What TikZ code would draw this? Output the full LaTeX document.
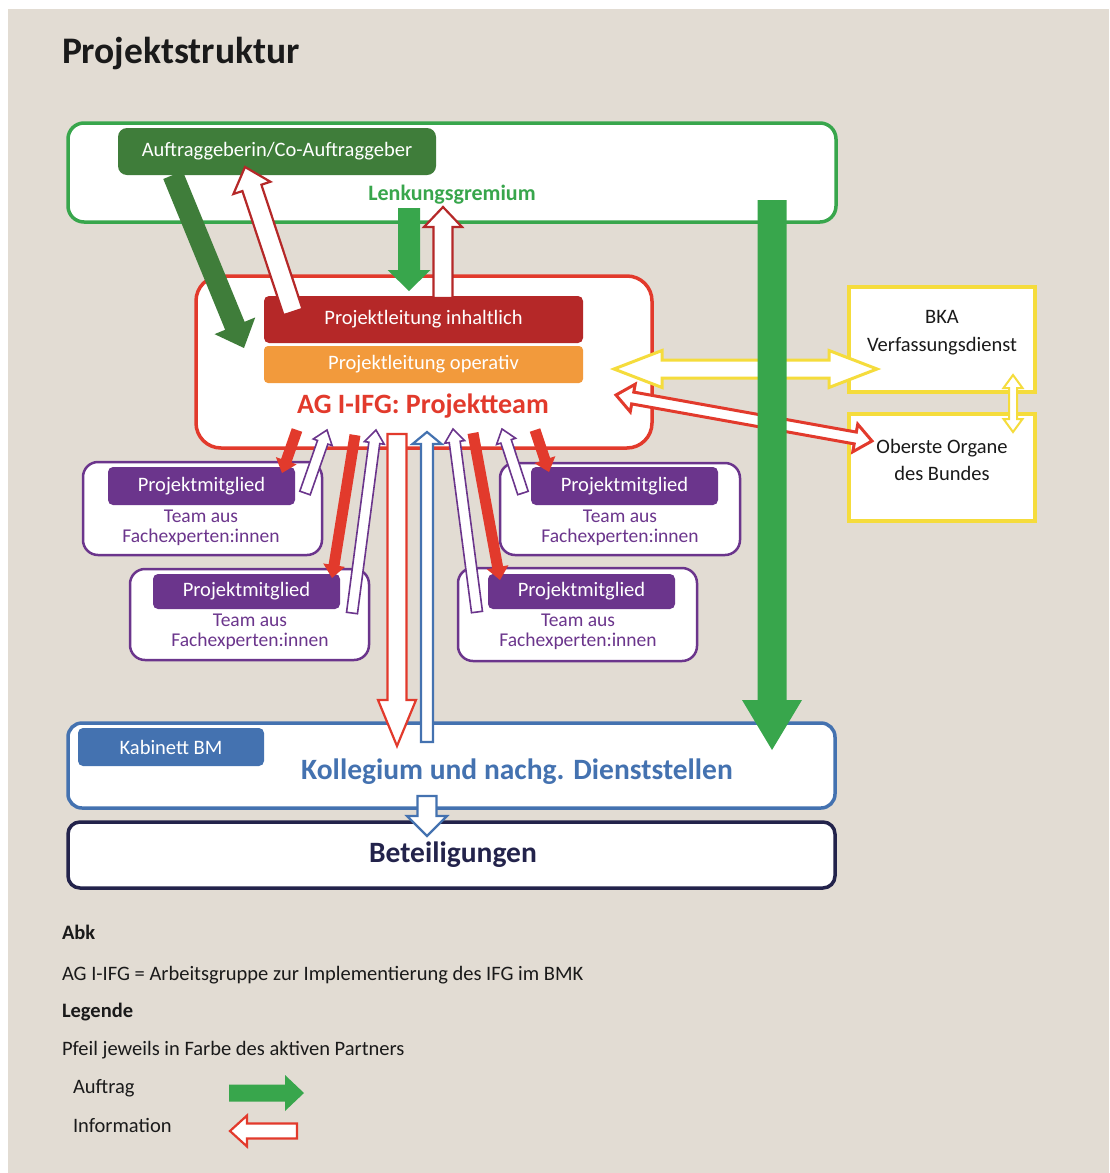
\documentclass[tikz,border=0pt]{standalone}
\usepackage{fontspec}
\setmainfont{Carlito}
\usetikzlibrary{calc}
\definecolor{beige}{HTML}{E2DCD3}
\definecolor{lgreen}{HTML}{38A64C}
\definecolor{dgreen}{HTML}{3F7D3A}
\definecolor{tred}{HTML}{E23A2C}
\definecolor{dred}{HTML}{B52828}
\definecolor{orng}{HTML}{F29A3C}
\definecolor{purp}{HTML}{6B358C}
\definecolor{ylw}{HTML}{F5DC3C}
\definecolor{blu}{HTML}{4472B0}
\definecolor{navy}{HTML}{23234B}
\definecolor{ink}{HTML}{1A1A1A}
% block arrow: style, from, to, shaft half width, head half width, head length
\newcommand\blockarrow[6]{%
  \path[#1] let \p1=(#2), \p2=(#3), \n1={atan2(\y2-\y1,\x2-\x1)}, \n2={veclen(\x2-\x1,\y2-\y1)} in
  [shift={(\p1)}, rotate=\n1]
  (0,-#4) -- ({\n2-#6},-#4) -- ({\n2-#6},-#5) -- (\n2,0) -- ({\n2-#6},#5) -- ({\n2-#6},#4) -- (0,#4) -- cycle;}
% double-headed block arrow
\newcommand\dblarrow[6]{%
  \path[#1] let \p1=(#2), \p2=(#3), \n1={atan2(\y2-\y1,\x2-\x1)}, \n2={veclen(\x2-\x1,\y2-\y1)} in
  [shift={(\p1)}, rotate=\n1]
  (0,0) -- (#6,#5) -- (#6,#4) -- ({\n2-#6},#4) -- ({\n2-#6},#5) -- (\n2,0) -- ({\n2-#6},-#5) -- ({\n2-#6},-#4) -- (#6,-#4) -- (#6,-#5) -- cycle;}
\tikzset{
  box/.style={rectangle, inner sep=0pt, outer sep=0pt, anchor=north west},
  txt/.style={inner sep=0pt, outer sep=0pt, anchor=base},
  solidA/.style={fill=#1},
  hollowA/.style={fill=white, draw=#1, line width=2.2pt, line join=miter},
  fd/.style={font=\fontsize{20.5}{24}\selectfont},
  fl/.style={font=\fontsize{20.5}{24}\selectfont},
  fb/.style={font=\fontsize{20.5}{24}\selectfont\bfseries},
  labelbox/.style={box, fill=purp, rounded corners=5pt, minimum width=187pt, text=white, fd},
  memberbox/.style={box, draw=purp, line width=2.5pt, fill=white, rounded corners=15pt},
  membertxt/.style={inner sep=0pt, outer sep=0pt, anchor=center, align=center, text=purp, font=\fontsize{19.5}{20}\selectfont},
}
\begin{document}
\begin{tikzpicture}[x=1pt,y=-1pt]
\useasboundingbox (0,0) rectangle (1109,1173);
\fill[white] (0,0) rectangle (1109,1173);
\fill[beige] (8,9) rectangle (1109,1173);

% title
\node[txt, anchor=base west, font=\fontsize{37.5}{44}\selectfont\bfseries, text=ink] (title) at (62,63) {Projektstruktur};

% Lenkungsgremium
\node[box, draw=lgreen, line width=3.5pt, fill=white, rounded corners=16pt, minimum width=768pt, minimum height=99pt] (lenk) at (68,123) {};
\node[box, fill=dgreen, rounded corners=9pt, minimum width=318pt, minimum height=47pt, text=white, fd] (auftr) at (118,128) {Auftraggeberin/Co-Auftraggeber};
\node[txt, font=\fontsize{22}{26}\selectfont\bfseries, text=lgreen] (lenkt) at (452,200) {Lenkungsgremium};

% Projektteam
\node[box, draw=tred, line width=3.5pt, fill=white, rounded corners=25pt, minimum width=456pt, minimum height=172pt] (team) at (196,276) {};
\node[box, fill=dred, rounded corners=5pt, minimum width=319pt, minimum height=47pt, text=white, fd] (pli) at (264,296) {Projektleitung inhaltlich};
\node[box, fill=orng, rounded corners=4pt, minimum width=319pt, minimum height=37pt, text=white, fd] (plo) at (264,346) {Projektleitung operativ};
\node[txt, font=\fontsize{28}{33}\selectfont\bfseries, text=tred] (teamt) at (423,413) {AG I-IFG: Projektteam};

% yellow boxes
\node[box, draw=ylw, line width=4pt, fill=white, minimum width=186pt, minimum height=105pt] (bka) at (849,287) {};
\node[txt, fd, text=ink] (bkat1) at (942,323) {BKA};
\node[txt, fd, text=ink] (bkat2) at (942,351) {Verfassungsdienst};
\node[box, draw=ylw, line width=4pt, fill=white, minimum width=186pt, minimum height=107pt] (obo) at (849,414) {};
\node[txt, fd, text=ink] (obot1) at (942,453) {Oberste Organe};
\node[txt, fd, text=ink] (obot2) at (942,480) {des Bundes};

% members
\node[memberbox, minimum width=239pt, minimum height=93pt] (m1) at (83,462) {};
\node[labelbox, minimum height=38pt] (m1l) at (108,467) {Projektmitglied};
\node[membertxt] (m1t) at (201,528) {Team aus\\Fachexperten:innen};

\node[memberbox, minimum width=239pt, minimum height=91pt] (m2) at (130,569) {};
\node[labelbox, minimum height=35pt] (m2l) at (153,574) {Projektmitglied};
\node[membertxt] (m2t) at (250,632) {Team aus\\Fachexperten:innen};

\node[memberbox, minimum width=240pt, minimum height=92pt] (m3) at (500,463) {};
\node[labelbox, minimum height=38pt] (m3l) at (531,467) {Projektmitglied};
\node[membertxt] (m3t) at (620,528) {Team aus\\Fachexperten:innen};

\node[memberbox, minimum width=239pt, minimum height=93pt] (m4) at (458,568) {};
\node[labelbox, minimum height=35pt] (m4l) at (488,574) {Projektmitglied};
\node[membertxt] (m4t) at (578,632) {Team aus\\Fachexperten:innen};

% Kollegium / Beteiligungen
\node[box, draw=blu, line width=3.5pt, fill=white, rounded corners=14pt, minimum width=767pt, minimum height=85pt] (koll) at (68,723) {};
\node[box, fill=blu, rounded corners=5pt, minimum width=186pt, minimum height=38pt, text=white, fd] (kab) at (78,728) {Kabinett BM};
\node[txt, font=\fontsize{29.5}{34}\selectfont\bfseries, text=blu] (kollt) at (517,779) {Kollegium und nachg. Dienststellen};
\node[box, draw=navy, line width=3.5pt, fill=white, rounded corners=12pt, minimum width=767pt, minimum height=66pt] (bet) at (68,822) {};
\node[txt, font=\fontsize{29.5}{34}\selectfont\bfseries, text=navy] (bett) at (453,862) {Beteiligungen};

% ---------- arrow end points
\coordinate (dgS) at (173,175);   \coordinate (dgT) at (244,348);
\coordinate (iaS) at (293,312);   \coordinate (iaT) at (245,167);
\coordinate (lgS) at (409,208);   \coordinate (lgT) at (409,291);
\coordinate (ilS) at (443,298);   \coordinate (ilT) at (443,207);
\coordinate (bgS) at (772,200);   \coordinate (bgT) at (772,750);
\coordinate (yA) at (614,369);    \coordinate (yB) at (877,369);
\coordinate (rA) at (616,395);    \coordinate (rB) at (872,441);
\coordinate (vyA) at (1013,375);  \coordinate (vyB) at (1013,432);
\coordinate (r1S) at (297,430);   \coordinate (r1T) at (282,473);
\coordinate (r2S) at (355,435);   \coordinate (r2T) at (332,578);
\coordinate (r3S) at (473,433);   \coordinate (r3T) at (500,580);
\coordinate (r4S) at (535,430);   \coordinate (r4T) at (549,472);
\coordinate (p1S) at (305,493);   \coordinate (p1T) at (327,430);
\coordinate (p2S) at (352,613);   \coordinate (p2T) at (376,430);
\coordinate (p3S) at (477,612);   \coordinate (p3T) at (453,429);
\coordinate (p4S) at (523,493);   \coordinate (p4T) at (502,429);
\coordinate (rdS) at (397,434);   \coordinate (rdT) at (397,746);
\coordinate (buS) at (427,742);   \coordinate (buT) at (427,432);
\coordinate (bdS) at (427,796);   \coordinate (bdT) at (427,836);

% arrows around Lenkungsgremium
\blockarrow{solidA=dgreen}{dgS}{dgT}{10.5}{22}{24}
\blockarrow{hollowA=dred}{iaS}{iaT}{10}{19.5}{22}
\blockarrow{solidA=lgreen}{lgS}{lgT}{11}{21.5}{21}
\blockarrow{hollowA=dred}{ilS}{ilT}{9.5}{19}{20}

% member arrows
\blockarrow{solidA=tred}{r1S}{r1T}{5.5}{11}{13}
\blockarrow{solidA=tred}{r2S}{r2T}{5.5}{11}{13}
\blockarrow{solidA=tred}{r3S}{r3T}{5.5}{11}{13}
\blockarrow{solidA=tred}{r4S}{r4T}{5.5}{11}{13}
\blockarrow{hollowA=purp, line width=1.6pt}{p1S}{p1T}{5.5}{10}{13}
\blockarrow{hollowA=purp, line width=1.6pt}{p2S}{p2T}{5.5}{10}{13}
\blockarrow{hollowA=purp, line width=1.6pt}{p3S}{p3T}{5.5}{10}{13}
\blockarrow{hollowA=purp, line width=1.6pt}{p4S}{p4T}{5.5}{10}{13}

% vertical arrows to Kollegium
\blockarrow{hollowA=tred}{rdS}{rdT}{9.5}{19}{46}
\blockarrow{hollowA=blu}{buS}{buT}{6}{14.5}{12}
\blockarrow{hollowA=blu}{bdS}{bdT}{9.5}{20}{20}

% side arrows
\dblarrow{hollowA=ylw, line width=3pt}{yA}{yB}{9}{18.5}{48}
\dblarrow{hollowA=tred, line width=3pt}{rA}{rB}{6}{14}{17}
\dblarrow{hollowA=ylw, line width=2pt}{vyA}{vyB}{4}{9.5}{13}

% big green arrow
\blockarrow{solidA=lgreen}{bgS}{bgT}{14.5}{30}{50}

% legend
\node[txt, anchor=base west, fb, text=ink] (abk) at (62,939) {Abk};
\node[txt, anchor=base west, fl, text=ink] (abkt) at (62,980) {AG I-IFG = Arbeitsgruppe zur Implementierung des IFG im BMK};
\node[txt, anchor=base west, fb, text=ink] (leg) at (62,1017) {Legende};
\node[txt, anchor=base west, fl, text=ink] (legt) at (62,1055) {Pfeil jeweils in Farbe des aktiven Partners};
\node[txt, anchor=base west, fl, text=ink] (auftrag) at (73,1093) {Auftrag};
\node[txt, anchor=base west, fl, text=ink] (info) at (73,1132) {Information};
\coordinate (lgaS) at (229,1093); \coordinate (lgaT) at (304,1093);
\coordinate (liaS) at (297,1131); \coordinate (liaT) at (230,1131);
\blockarrow{solidA=lgreen}{lgaS}{lgaT}{8.5}{18}{19}
\blockarrow{hollowA=tred}{liaS}{liaT}{7.5}{15.5}{17}
\end{tikzpicture}
\end{document}
